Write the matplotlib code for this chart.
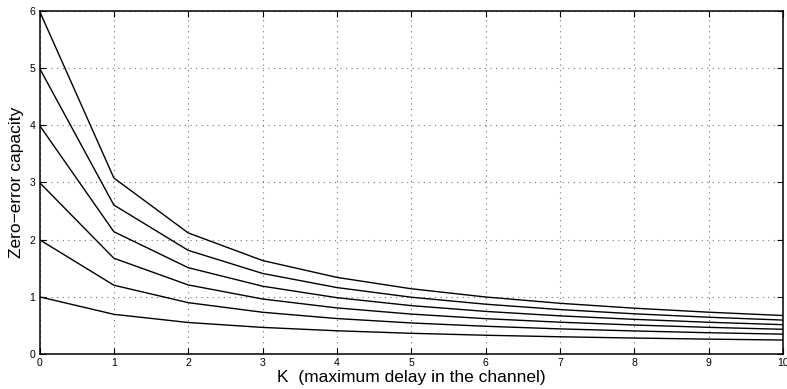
import matplotlib
matplotlib.use("Agg")
import matplotlib.pyplot as plt

plt.rcParams['font.family'] = ['Liberation Sans', 'DejaVu Sans']

# K = maximum delay
K = [0, 1, 2, 3, 4, 5, 6, 7, 8, 9, 10]

# zero-error capacity, one curve per alphabet size (2, 4, 8, 16, 32, 64)
cap_q2 = [1.000, 0.694, 0.551, 0.465, 0.406, 0.362, 0.328, 0.301, 0.279, 0.260, 0.244]
cap_q4 = [2.000, 1.203, 0.898, 0.730, 0.620, 0.543, 0.485, 0.439, 0.403, 0.372, 0.347]
cap_q8 = [3.000, 1.675, 1.208, 0.962, 0.806, 0.698, 0.618, 0.556, 0.507, 0.466, 0.432]
cap_q16 = [4.000, 2.139, 1.510, 1.186, 0.985, 0.846, 0.745, 0.667, 0.606, 0.555, 0.513]
cap_q32 = [5.000, 2.606, 1.813, 1.409, 1.162, 0.993, 0.871, 0.777, 0.703, 0.643, 0.593]
cap_q64 = [6.000, 3.079, 2.118, 1.635, 1.340, 1.141, 0.997, 0.887, 0.801, 0.731, 0.673]

fig = plt.figure(figsize=(7.87, 3.89), dpi=100)
ax = fig.add_axes([0.0502, 0.09, 0.9448, 0.8817])

for c in [cap_q2, cap_q4, cap_q8, cap_q16, cap_q32, cap_q64]:
    ax.plot(K, c, color='black', lw=1.0)

ax.set_xlim(0, 10)
ax.set_ylim(0, 6)
ax.set_xticks(range(0, 11))
ax.set_yticks(range(0, 7))
# matlab-like sparse dotted grid
ax.grid(True, linestyle=(0, (1, 4)), color='0.45', lw=0.8)
ax.tick_params(direction='in', top=True, right=True, length=4, width=0.8,
               labelsize=7.5, pad=3)
for s in ax.spines.values():
    s.set_linewidth(1.1)

ax.set_xlabel('K  (maximum delay in the channel)', fontsize=12.5, labelpad=1)
ax.set_ylabel('Zero\u2212error capacity', fontsize=12.5, labelpad=4)

fig.savefig('out.png')
